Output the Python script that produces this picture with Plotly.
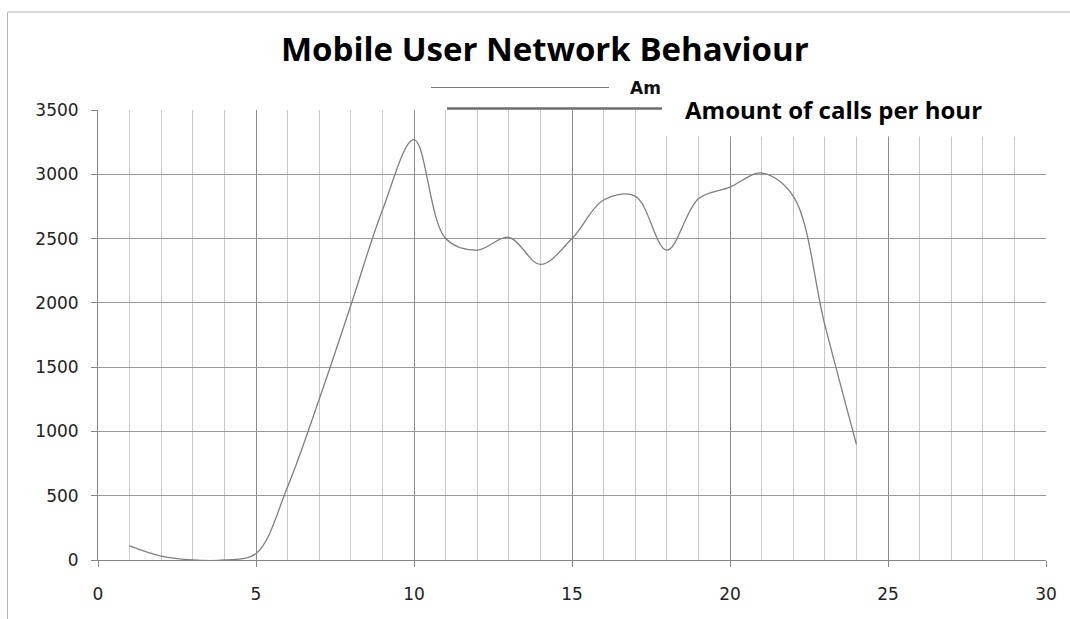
import plotly.graph_objects as go

# ---- data ----
hours = list(range(1, 25))
calls = [110, 30, 0, 0, 50, 570, 1250, 1980, 2720, 3270, 2500, 2410,
         2510, 2300, 2500, 2800, 2830, 2410, 2810, 2900, 3010, 2830, 1830, 900]
series_name = "Amount of calls per hour"
title_text = "Mobile User Network Behaviour"
x_ticks = [0, 5, 10, 15, 20, 25, 30]
y_ticks = [0, 500, 1000, 1500, 2000, 2500, 3000, 3500]

W, H = 1070, 619
L, R, T, B = 98, 24, 110, 59
PW, PH = W - L - R, H - T - B


def px(x):
    return (x - L) / PW


def py(y):
    return (H - B - y) / PH


fig = go.Figure()
fig.add_trace(go.Scatter(
    x=hours, y=calls, mode="lines", name=series_name,
    line=dict(color="#7f7f7f", width=1.3, shape="spline", smoothing=1),
    showlegend=False,
))

tickfont = dict(family="DejaVu Sans", size=17, color="#222222")

fig.update_layout(
    width=W, height=H,
    margin=dict(l=L, r=R, t=T, b=B),
    paper_bgcolor="white", plot_bgcolor="white",
    showlegend=False,
    xaxis=dict(
        range=[0, 30], tickvals=x_ticks, ticks="outside", ticklen=6,
        tickcolor="#868686", showline=True, linecolor="#868686", linewidth=1,
        showgrid=True, gridcolor="#8c8c8c", gridwidth=1, zeroline=False,
        minor=dict(dtick=1, showgrid=True, gridcolor="#c8c8c8", gridwidth=1, ticks=""),
        tickfont=tickfont, ticklabelstandoff=13, fixedrange=True,
    ),
    yaxis=dict(
        range=[0, 3500], tickvals=y_ticks, ticks="outside", ticklen=6,
        tickcolor="#868686", showline=True, linecolor="#868686", linewidth=1,
        showgrid=True, gridcolor="#9a9a9a", gridwidth=1, zeroline=False,
        tickfont=tickfont, ticklabelstandoff=9, fixedrange=True,
    ),
)

shapes = []
# outer chart border
shapes.append(dict(type="rect", xref="paper", yref="paper",
                   x0=px(7.5), x1=px(1080), y0=py(640), y1=py(12),
                   line=dict(color="#b4b4b4", width=1), fillcolor="rgba(0,0,0,0)",
                   layer="above"))
# legend box background (covers gridlines)
shapes.append(dict(type="rect", xref="paper", yref="paper",
                   x0=px(663), x1=px(1050), y0=py(136.5), y1=py(96),
                   line=dict(width=0), fillcolor="white", layer="above"))
# legend line symbols
shapes.append(dict(type="line", xref="paper", yref="paper",
                   x0=px(431), x1=px(609), y0=py(87.5), y1=py(87.5),
                   line=dict(color="#7a7a7a", width=1.2), layer="above"))
shapes.append(dict(type="line", xref="paper", yref="paper",
                   x0=px(447), x1=px(662), y0=py(108.5), y1=py(108.5),
                   line=dict(color="#6e6e6e", width=2.6), layer="above"))
fig.update_layout(shapes=shapes)

annotations = [
    dict(text=title_text, xref="paper", yref="paper", x=px(545), y=py(48),
         xanchor="center", yanchor="middle", showarrow=False,
         font=dict(family="Open Sans", size=33, color="#000000", weight="bold")),
    dict(text=series_name[:2], xref="paper", yref="paper", x=px(628), y=py(88),
         xanchor="left", yanchor="middle", showarrow=False,
         font=dict(family="DejaVu Sans", size=17, color="#111111", weight="bold")),
    dict(text=series_name, xref="paper", yref="paper", x=px(683), y=py(109),
         xanchor="left", yanchor="middle", showarrow=False,
         font=dict(family="Open Sans", size=24, color="#000000", weight="bold")),
]
fig.update_layout(annotations=annotations)

fig.write_html("out.html")
